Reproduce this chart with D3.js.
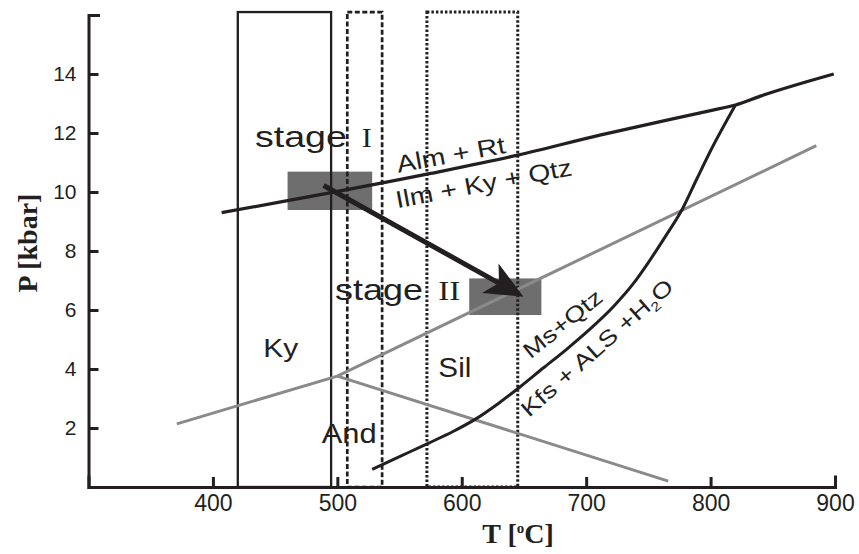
<!DOCTYPE html>
<html>
<head>
<meta charset="utf-8">
<title>P-T path</title>
<style>
  body { margin: 0; background: #fff; }
  svg { display: block; }
  .axis path { stroke: #231f20; fill: none; stroke-width: 3px; stroke-linecap: square; }
  .axis text { font-family: "Liberation Sans", Arial, sans-serif; fill: #231f20; }
  .axisTitle { font-family: "Liberation Serif", "Times New Roman", serif; font-weight: bold; font-size: 28px; fill: #231f20; }
  .lab { font-family: "Liberation Sans", Arial, sans-serif; fill: #231f20; }
  .roman { font-family: "Liberation Serif", "Times New Roman", serif; fill: #231f20; }
</style>
</head>
<body>
<svg id="chart" width="859" height="554"></svg>
<script src="https://d3js.org/d3.v7.min.js"></script>
<script>

// ticks
var tempTicks = [400, 500, 600, 700, 800, 900];
var pressTicks = [2, 4, 6, 8, 10, 12, 14];

// temperature windows (solid, dashed, dotted)
var windowLow = [420, 508, 572];
var windowHigh = [495, 536, 645];
var windowTop = 16.1;

// stage boxes
var stageTemps = [[460, 528], [606, 664]];
var stagePress = [[9.39, 10.69], [5.83, 7.07]];

// reaction lines [T, P]
var almRtLine = [[407, 9.3], [575, 10.63], [645, 11.25], [711, 11.93], [765, 12.44],
                 [800, 12.76], [820, 12.95], [840, 13.25], [899, 14.0]];
var kyLine = [[371, 2.14], [500, 3.76], [885, 11.57]];
var andSilLine = [[500, 3.76], [766, 0.2]];
var msQtzLine = [[528, 0.6], [550, 1.03], [573, 1.48], [593, 1.88], [611, 2.3], [630, 2.85],
                 [647, 3.4], [666, 4.05], [684, 4.66], [703, 5.35], [722, 6.12], [738, 6.9],
                 [749, 7.55], [765, 8.58], [777, 9.4], [789, 10.45], [800, 11.4], [820, 12.95]];

// P-T path arrow
var ptPath = [[489, 10.22], [649.6, 6.45]];

// labels [text, T, P]
var labels = {
  stage1: ["stage", 433.8, 11.54],
  roman1: ["I", 519.6, 11.54],
  stage2: ["stage", 498.1, 6.34],
  roman2: ["II", 581.2, 6.34],
  almRt: ["Alm + Rt", 549.0, 10.65],
  ilmKy: ["Ilm + Ky + Qtz", 548.2, 9.45],
  ky: ["Ky", 440.5, 4.42],
  and: ["And", 487.4, 1.50],
  sil: ["Sil", 581.2, 3.74],
  msQtz: ["Ms+Qtz", 655.3, 4.32],
  kfs: ["Kfs + ALS +H", 654.1, 2.34]
};

var dark = "#231f20";
var grey = "#8a8a8a";
var boxGrey = "#6e6e6e";

var svg = d3.select("#chart");

var x = d3.scaleLinear().domain([300, 900]).range([88.5, 835]);
var y = d3.scaleLinear().domain([0, 16]).range([487, 15]);

var line = d3.line()
  .x(function(d) { return x(d[0]); })
  .y(function(d) { return y(d[1]); });

var smooth = d3.line()
  .x(function(d) { return x(d[0]); })
  .y(function(d) { return y(d[1]); })
  .curve(d3.curveMonotoneX);

// stage boxes
svg.selectAll("rect.stage")
  .data(stageTemps)
  .enter().append("rect")
  .attr("class", "stage")
  .attr("x", function(d) { return x(d[0]); })
  .attr("width", function(d) { return x(d[1]) - x(d[0]); })
  .attr("y", function(d, i) { return y(stagePress[i][1]); })
  .attr("height", function(d, i) { return y(stagePress[i][0]) - y(stagePress[i][1]); })
  .style("fill", boxGrey);

// temperature windows
var dashes = [null, "5,2.5", "2.5,2"];
var widths = [2.3, 2.7, 3];
svg.selectAll("rect.window")
  .data(windowLow)
  .enter().append("rect")
  .attr("class", "window")
  .attr("x", function(d) { return x(d); })
  .attr("width", function(d, i) { return x(windowHigh[i]) - x(d); })
  .attr("y", y(windowTop))
  .attr("height", y(0) - y(windowTop))
  .style("fill", "none")
  .style("stroke", dark)
  .style("stroke-width", function(d, i) { return widths[i]; })
  .style("stroke-dasharray", function(d, i) { return dashes[i]; });

// aluminosilicate lines
svg.append("path").attr("d", line(kyLine))
  .style("fill", "none").style("stroke", grey).style("stroke-width", 3);
svg.append("path").attr("d", line(andSilLine))
  .style("fill", "none").style("stroke", grey).style("stroke-width", 3);

// reactions
svg.append("path").attr("d", smooth(almRtLine))
  .style("fill", "none").style("stroke", dark).style("stroke-width", 3.3);
svg.append("path").attr("d", smooth(msQtzLine))
  .style("fill", "none").style("stroke", dark).style("stroke-width", 3);

// axes
var xAxis = d3.axisBottom(x)
  .tickValues(tempTicks)
  .tickSizeInner(-10)
  .tickSizeOuter(-10)
  .tickPadding(8);

var yAxis = d3.axisLeft(y)
  .tickValues(pressTicks)
  .tickSizeInner(-10)
  .tickSizeOuter(-10)
  .tickPadding(12);

var gx = svg.append("g")
  .attr("class", "x axis")
  .attr("transform", "translate(0," + y(0) + ")")
  .call(xAxis);
gx.selectAll("text").style("font-size", "23px");

var gy = svg.append("g")
  .attr("class", "y axis")
  .attr("transform", "translate(" + x(300) + ",0)")
  .call(yAxis);
gy.selectAll("text").style("font-size", "21px");

svg.selectAll(".tick line")
  .attr("stroke", dark)
  .attr("stroke-width", 3);

// axis titles
svg.append("text")
  .attr("class", "axisTitle")
  .attr("transform", "translate(37,243) rotate(-90)")
  .style("text-anchor", "middle")
  .text("P [kbar]");

var tTitle = svg.append("text")
  .attr("class", "axisTitle")
  .attr("x", 518).attr("y", 543)
  .style("text-anchor", "middle");
tTitle.append("tspan").text("T [");
tTitle.append("tspan").attr("dy", -10).style("font-size", "15px").text("o");
tTitle.append("tspan").attr("dy", 10).text("C]");

// text stretched to a target width
function fitLabel(el, t, p, angle, width) {
  var w0 = el.node().getComputedTextLength();
  el.attr("transform", "translate(" + x(t) + "," + y(p) + ") rotate(" + angle + ") scale(" + (width / w0) + ",1)");
  return el;
}

function addLabel(key, cls, size, angle, width) {
  var d = labels[key];
  var el = svg.append("text").attr("class", cls).style("font-size", size + "px").text(d[0]);
  return fitLabel(el, d[1], d[2], angle, width);
}

addLabel("stage1", "lab", 29, 0, 92);
addLabel("roman1", "roman", 28, 0, 10);
addLabel("stage2", "lab", 29, 0, 88);
addLabel("roman2", "roman", 28, 0, 22);
addLabel("almRt", "lab", 24, -10.5, 110);
addLabel("ilmKy", "lab", 24, -10.7, 179);
addLabel("ky", "lab", 26, 0, 35);
addLabel("and", "lab", 28, 0, 55);
addLabel("sil", "lab", 28, 0, 33);
addLabel("msQtz", "lab", 22, -39, 95);

var kfs = svg.append("text").attr("class", "lab").style("font-size", "22px");
kfs.append("tspan").text(labels.kfs[0]);
kfs.append("tspan").attr("dy", 5).style("font-size", "13px").text("2");
kfs.append("tspan").attr("dy", -5).text("O");
fitLabel(kfs, labels.kfs[1], labels.kfs[2], -41.5, 195);

// P-T path arrow
var x0 = x(ptPath[0][0]), y0 = y(ptPath[0][1]);
var x1 = x(ptPath[1][0]), y1 = y(ptPath[1][1]);
var ang = Math.atan2(y1 - y0, x1 - x0);
svg.append("line")
  .attr("x1", x0).attr("y1", y0)
  .attr("x2", x1 - 28 * Math.cos(ang)).attr("y2", y1 - 28 * Math.sin(ang))
  .style("stroke", dark).style("stroke-width", 5);
svg.append("path")
  .attr("d", "M0,0L-38,-17L-28,0L-38,17Z")
  .attr("transform", "translate(" + x1 + "," + y1 + ") rotate(" + (ang * 180 / Math.PI) + ")")
  .style("fill", dark);

</script>
</body>
</html>
